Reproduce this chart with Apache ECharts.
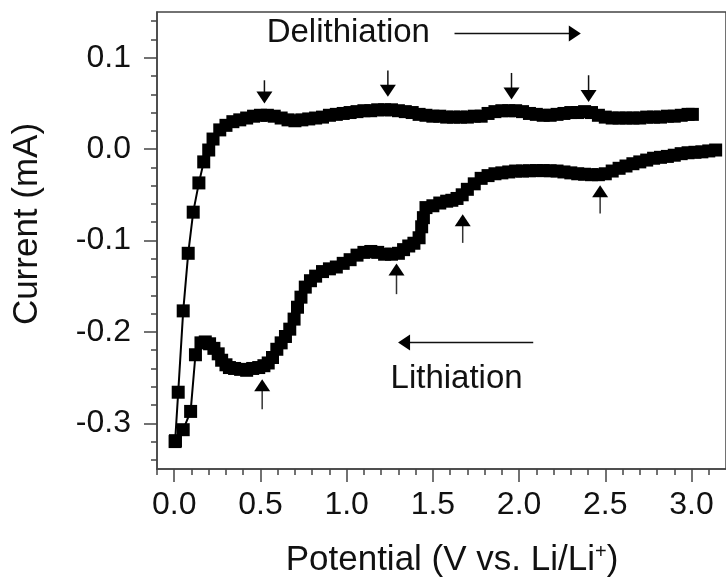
<!DOCTYPE html>
<html>
<head>
<meta charset="utf-8">
<script src="https://cdn.jsdelivr.net/npm/echarts@6/dist/echarts.min.js"></script>
<style>
html,body{margin:0;padding:0;background:#fff;}
#c{width:726px;height:581px;}
</style>
</head>
<body>
<div id="c"></div>
<script>
// ---- data (potential V, current mA) ----
const delithiation = [
[0.005,-0.320],[0.023,-0.266],[0.052,-0.177],[0.081,-0.114],[0.110,-0.069],[0.143,-0.037],
[0.171,-0.014],[0.200,-0.001],[0.225,0.011],[0.264,0.021],[0.30,0.026],[0.34,0.030],
[0.38,0.032],[0.42,0.034],[0.46,0.036],[0.50,0.037],[0.54,0.037],[0.58,0.036],
[0.62,0.034],[0.66,0.032],[0.70,0.031],[0.74,0.032],[0.78,0.033],[0.82,0.034],
[0.86,0.035],[0.90,0.037],[0.94,0.038],[0.98,0.039],[1.02,0.040],[1.06,0.041],
[1.10,0.042],[1.14,0.042],[1.18,0.043],[1.22,0.043],[1.26,0.043],[1.30,0.042],
[1.34,0.041],[1.38,0.040],[1.42,0.038],[1.46,0.037],[1.50,0.036],[1.54,0.036],
[1.58,0.035],[1.62,0.035],[1.66,0.035],[1.70,0.035],[1.74,0.036],[1.78,0.036],
[1.82,0.039],[1.86,0.041],[1.90,0.042],[1.94,0.042],[1.98,0.042],[2.02,0.041],
[2.06,0.039],[2.10,0.038],[2.14,0.037],[2.18,0.037],[2.22,0.038],[2.26,0.039],
[2.30,0.040],[2.34,0.040],[2.38,0.041],[2.42,0.040],[2.46,0.037],[2.50,0.035],
[2.54,0.034],[2.58,0.034],[2.62,0.034],[2.66,0.034],[2.70,0.034],[2.74,0.035],
[2.78,0.035],[2.82,0.035],[2.86,0.036],[2.90,0.036],[2.94,0.037],[2.98,0.038],[3.005,0.038]
];
const lithiation = [
[3.14,-0.001],[3.10,-0.002],[3.06,-0.003],[3.02,-0.0035],[2.98,-0.004],[2.94,-0.005],
[2.90,-0.0067],[2.86,-0.008],[2.82,-0.009],[2.78,-0.010],[2.74,-0.012],[2.70,-0.014],
[2.66,-0.016],[2.62,-0.0185],[2.58,-0.021],[2.54,-0.024],[2.50,-0.027],[2.46,-0.028],
[2.42,-0.028],[2.38,-0.0275],[2.34,-0.027],[2.30,-0.026],[2.26,-0.025],[2.22,-0.024],
[2.18,-0.0237],[2.14,-0.0235],[2.10,-0.0235],[2.06,-0.0237],[2.02,-0.024],[1.98,-0.024],
[1.94,-0.025],[1.90,-0.026],[1.86,-0.027],[1.82,-0.029],[1.78,-0.032],[1.74,-0.038],
[1.70,-0.044],[1.67,-0.050],[1.64,-0.054],[1.61,-0.056],[1.58,-0.057],[1.54,-0.059],
[1.50,-0.062],[1.46,-0.064],[1.445,-0.075],[1.435,-0.085],[1.42,-0.097],[1.39,-0.103],
[1.36,-0.106],[1.33,-0.110],[1.30,-0.114],[1.26,-0.115],[1.22,-0.115],[1.18,-0.113],
[1.14,-0.112],[1.10,-0.113],[1.06,-0.116],[1.02,-0.121],[0.98,-0.125],[0.94,-0.129],
[0.90,-0.131],[0.86,-0.134],[0.82,-0.139],[0.79,-0.144],[0.76,-0.151],[0.735,-0.162],
[0.715,-0.173],[0.695,-0.186],[0.67,-0.197],[0.645,-0.205],[0.62,-0.212],[0.595,-0.219],
[0.57,-0.228],[0.545,-0.234],[0.52,-0.237],[0.49,-0.239],[0.455,-0.240],[0.42,-0.242],
[0.385,-0.241],[0.35,-0.240],[0.32,-0.239],[0.30,-0.236],[0.275,-0.231],[0.255,-0.224],
[0.23,-0.218],[0.205,-0.213],[0.18,-0.211],[0.155,-0.212],[0.123,-0.225],[0.095,-0.287],
[0.052,-0.307],[0.007,-0.319]
];
const xMajorTicks = [0, 0.5, 1.0, 1.5, 2.0, 2.5, 3.0];
const xMinorTicks = [-0.1,0,0.1,0.2,0.3,0.4,0.5,0.6,0.7,0.8,0.9,1.0,1.1,1.2,1.3,1.4,1.5,1.6,1.7,1.8,1.9,2.0,2.1,2.2,2.3,2.4,2.5,2.6,2.7,2.8,2.9,3.0,3.1];
const yMajorTicks = [-0.3, -0.2, -0.1, 0, 0.1];
const yMinorTicks = [-0.34,-0.32,-0.30,-0.28,-0.26,-0.24,-0.22,-0.20,-0.18,-0.16,-0.14,-0.12,-0.10,-0.08,-0.06,-0.04,-0.02,0,0.02,0.04,0.06,0.08,0.10,0.12,0.14];
const xTitle = 'Potential (V vs. Li/Li';
const xTitleSup = '+';
const yTitle = 'Current (mA)';
const labelDelith = 'Delithiation';
const labelLith = 'Lithiation';

// ---- annotation placement (data coordinates) ----
const downArrows = [[0.523,0.0753,0.0499],[1.239,0.0861,0.0572],[1.956,0.0833,0.0542],[2.403,0.0808,0.0515]];
const upArrows = [[0.510,-0.2847,-0.2519],[1.289,-0.1587,-0.1251],[1.673,-0.1026,-0.0712],[2.470,-0.0704,-0.0395]];
const delithArrow = {from:[1.6255,0.1264], to:[2.358,0.1264]};
const lithArrow = {from:[2.082,-0.2115], to:[1.298,-0.2115]};
const delithTextPos = [0.536, 0.1273];
const lithTextPos = [1.2545, -0.2518];

const FONT = '"Liberation Sans", Arial, sans-serif';
const AX = '#444';

const chart = echarts.init(document.getElementById('c'), null, {renderer:'canvas'});
const option = {
  animation: false,
  backgroundColor: '#fff',
  grid: {left: 157, top: 12, width: 572, height: 457, show: true, borderColor: AX, borderWidth: 1.5, backgroundColor: 'transparent'},
  xAxis: [
    {type:'value', min:-0.1, max:3.2, position:'bottom',
     axisLine:{show:true, onZero:false, lineStyle:{color:AX, width:1.5}},
     axisTick:{show:true, inside:false, length:13, customValues:xMajorTicks, lineStyle:{color:AX, width:1.5}},
     axisLabel:{show:true, customValues:xMajorTicks, margin:20, fontSize:32, fontFamily:FONT, color:'#111',
       formatter:(v)=>Number(v).toFixed(1)},
     splitLine:{show:false}},
    {type:'value', min:-0.1, max:3.2, position:'bottom',
     axisLine:{show:false, onZero:false},
     axisTick:{show:true, inside:false, length:6, customValues:xMinorTicks, lineStyle:{color:AX, width:1.5}},
     axisLabel:{show:false}, splitLine:{show:false}}
  ],
  yAxis: [
    {type:'value', min:-0.35, max:0.15, position:'left',
     axisLine:{show:true, onZero:false, lineStyle:{color:AX, width:1.5}},
     axisTick:{show:true, inside:false, length:13, customValues:yMajorTicks, lineStyle:{color:AX, width:1.5}},
     axisLabel:{show:true, customValues:yMajorTicks, margin:26, fontSize:32, fontFamily:FONT, color:'#111',
       formatter:(v)=>{const s=Number(v).toFixed(1); return s==='-0.0'?'0.0':s;}},
     splitLine:{show:false}},
    {type:'value', min:-0.35, max:0.15, position:'left',
     axisLine:{show:false, onZero:false},
     axisTick:{show:true, inside:false, length:6, customValues:yMinorTicks, lineStyle:{color:AX, width:1.5}},
     axisLabel:{show:false}, splitLine:{show:false}}
  ],
  series: [
    {name:'Delithiation', type:'line', xAxisIndex:0, yAxisIndex:0, data:delithiation,
     symbol:'rect', symbolSize:13, showAllSymbol:true, clip:false,
     itemStyle:{color:'#000'}, lineStyle:{color:'#000', width:2}},
    {name:'Lithiation', type:'line', xAxisIndex:0, yAxisIndex:0, data:lithiation,
     symbol:'rect', symbolSize:13, showAllSymbol:true, clip:false,
     itemStyle:{color:'#000'}, lineStyle:{color:'#000', width:2}}
  ]
};
chart.setOption(option);

const P = (pt) => chart.convertToPixel({xAxisIndex:0, yAxisIndex:0}, pt);
const g = [];
downArrows.forEach(([x, yt, yh]) => {
  const a = P([x, yt]), b = P([x, yh]);
  g.push({type:'line', shape:{x1:a[0], y1:a[1], x2:b[0], y2:b[1]-10}, style:{stroke:'#111', lineWidth:1.5}, z:100});
  g.push({type:'polygon', shape:{points:[[b[0], b[1]], [b[0]-8, b[1]-12], [b[0]+8, b[1]-12]]}, style:{fill:'#000'}, z:100});
});
upArrows.forEach(([x, yt, yh]) => {
  const a = P([x, yt]), b = P([x, yh]);
  g.push({type:'line', shape:{x1:a[0], y1:a[1], x2:b[0], y2:b[1]+10}, style:{stroke:'#333', lineWidth:1.5}, z:100});
  g.push({type:'polygon', shape:{points:[[b[0], b[1]], [b[0]-8, b[1]+12], [b[0]+8, b[1]+12]]}, style:{fill:'#000'}, z:100});
});
[[delithArrow, 1], [lithArrow, -1]].forEach(([ar, dir]) => {
  const a = P(ar.from), b = P(ar.to);
  g.push({type:'line', shape:{x1:a[0], y1:a[1], x2:b[0]-dir*10, y2:b[1]}, style:{stroke:'#111', lineWidth:1.5}, z:100});
  g.push({type:'polygon', shape:{points:[[b[0], b[1]], [b[0]-dir*12, b[1]-8], [b[0]-dir*12, b[1]+8]]}, style:{fill:'#000'}, z:100});
});
const dt = P(delithTextPos), lt = P(lithTextPos);
g.push({type:'text', x:dt[0], y:dt[1], style:{text:labelDelith, font:'33px '+FONT, fill:'#111', align:'left', verticalAlign:'middle'}, z:100});
g.push({type:'text', x:lt[0], y:lt[1], style:{text:labelLith, font:'33px '+FONT, fill:'#111', align:'left', verticalAlign:'middle'}, z:100});
g.push({type:'text', x:27.5, y:224, rotation:Math.PI/2, style:{text:yTitle, font:'35px '+FONT, fill:'#111', align:'center', verticalAlign:'middle'}, z:100});
g.push({type:'text', x:452, y:560, style:{
  text:'{a|'+xTitle+'}{s|'+xTitleSup+'}{a|)}',
  align:'center', verticalAlign:'middle', fill:'#111',
  rich:{a:{fontSize:35, fontFamily:FONT, fill:'#111'}, s:{fontSize:20, fontFamily:FONT, fill:'#111', verticalAlign:'top', padding:[0,0,14,0]}}
}, z:100});
chart.setOption({graphic: g});
</script>
</body>
</html>
